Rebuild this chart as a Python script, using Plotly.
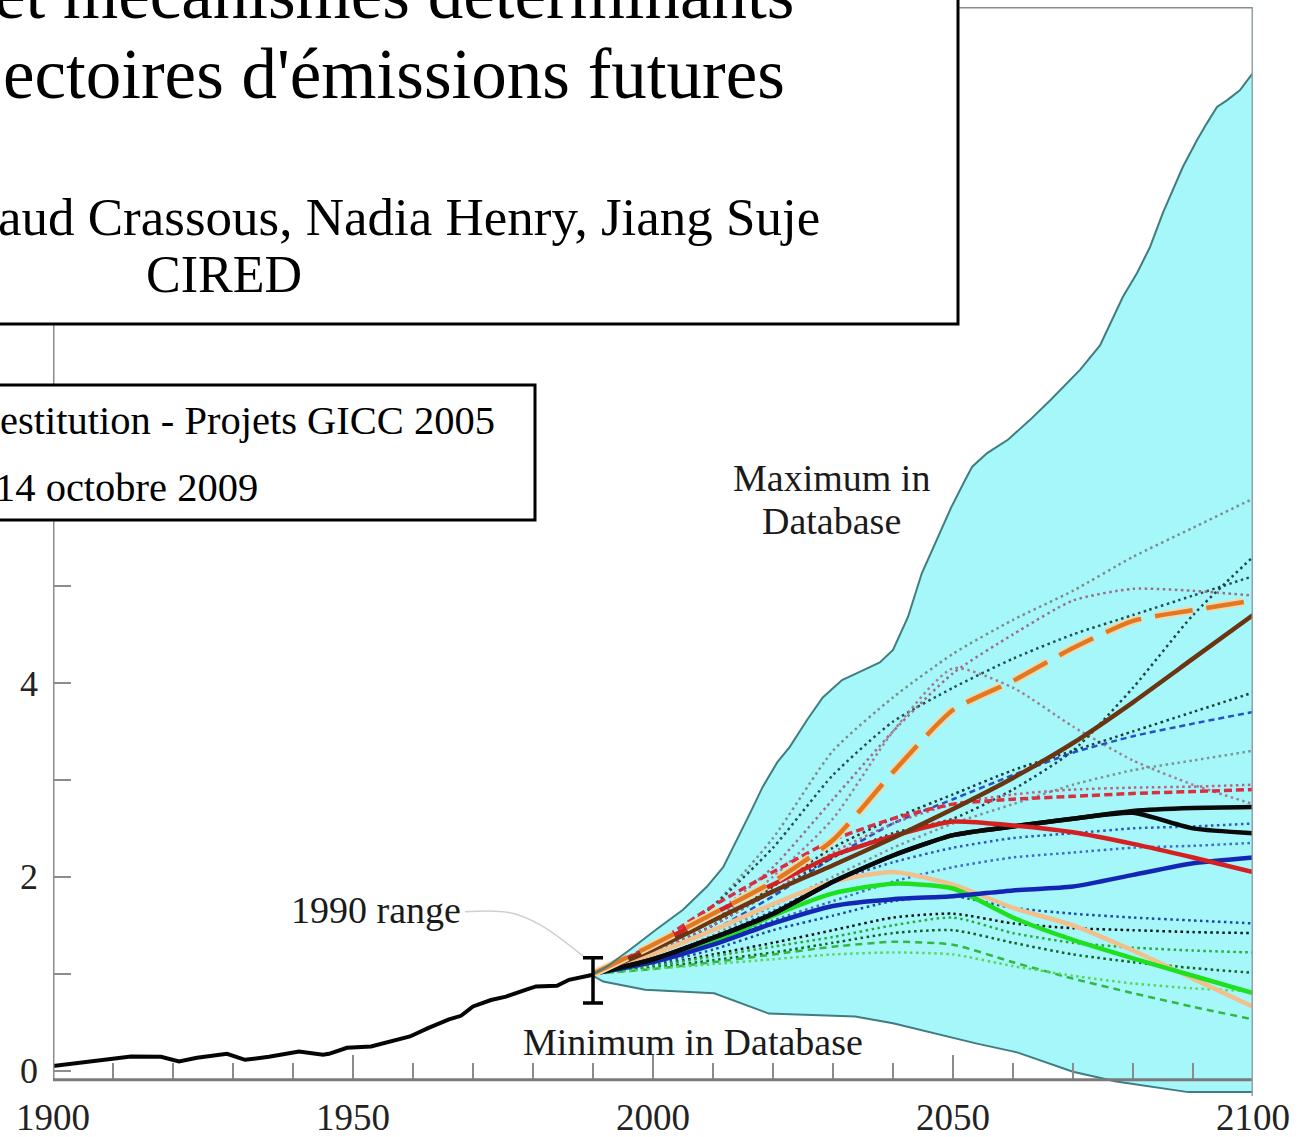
import plotly.graph_objects as go

# ---------------- data ----------------
hist_years = [1900, 1905, 1913, 1918, 1921, 1924, 1929, 1932, 1936, 1941, 1945, 1946,
              1949, 1953, 1957, 1959.5, 1962.5, 1966, 1968, 1970, 1973, 1975.5, 1979,
              1980.5, 1984, 1986, 1990]
hist_values = [0.05, 0.085, 0.148, 0.144, 0.096, 0.134, 0.175, 0.113, 0.144, 0.199, 0.165,
               0.175, 0.237, 0.251, 0.32, 0.354, 0.44, 0.53, 0.567, 0.663, 0.73, 0.765,
               0.84, 0.87, 0.876, 0.938, 0.99]

max_years = [1990, 1992, 1996.2, 2000.6, 2005, 2009, 2011.7, 2014, 2016.2, 2018.3, 2020.7,
             2022.8, 2025.7, 2028.3, 2031.5, 2034, 2037.8, 2040, 2042.5, 2044.8, 2047.2,
             2049.7, 2052, 2053.2, 2055.7, 2059.2, 2062.8, 2066.3, 2071.2, 2074.5, 2078.3,
             2080.7, 2082.8, 2085, 2088.3, 2090.7, 2092.3, 2094, 2095.7, 2097.8, 2100]
max_values = [1.0, 1.06, 1.25, 1.46, 1.66, 1.90, 2.10, 2.38, 2.66, 2.93, 3.18, 3.34, 3.62,
              3.85, 4.03, 4.10, 4.21, 4.34, 4.68, 5.13, 5.47, 5.81, 6.09, 6.23, 6.37, 6.51,
              6.71, 6.92, 7.23, 7.48, 7.98, 8.23, 8.49, 8.85, 9.32, 9.60, 9.77, 9.94, 10.01,
              10.11, 10.29]

min_years = [1990, 1991.7, 1998.7, 2010.2, 2019.3, 2033.7, 2040, 2046.5, 2054, 2060.7,
             2070, 2077.2, 2089.2, 2100]
min_values = [0.98, 0.92, 0.835, 0.80, 0.59, 0.56, 0.49, 0.39, 0.28, 0.19, -0.01, -0.11,
              -0.22, -0.22]

range_1990_year = 1990
range_1990_mid = 1.0
range_1990_high = 1.165
range_1990_low = 0.70

leader_years = [1968.7, 1976.2, 1981.2, 1988.7]
leader_values = [1.64, 1.63, 1.505, 1.165]

scen_years = [1990, 2000, 2010, 2020, 2030, 2040, 2050, 2060, 2070, 2080, 2090, 2100]

# dotted / dashed scenarios (thin)
dotted_gray_high = [1.0, 1.25, 1.7, 2.4, 3.3, 3.85, 4.3, 4.65, 4.95, 5.3, 5.6, 5.9]
dotted_teal_high = [1.0, 1.25, 1.7, 2.3, 3.05, 3.6, 3.95, 4.25, 4.5, 4.7, 4.9, 5.1]
dotted_mauve = [1.0, 1.2, 1.6, 2.1, 2.8, 3.5, 4.1, 4.5, 4.85, 4.97, 4.95, 4.9]
dotted_pink_peak = [1.0, 1.2, 1.55, 2.0, 2.6, 3.5, 4.15, 3.95, 3.55, 3.2, 2.95, 2.75]
dotted_dark_mid = [1.0, 1.2, 1.5, 1.9, 2.3, 2.6, 2.85, 3.1, 3.3, 3.5, 3.7, 3.9]
dashed_blue_mid = [1.0, 1.2, 1.45, 1.8, 2.2, 2.55, 2.8, 3.05, 3.28, 3.45, 3.58, 3.7]
dotted_dark_late = [1.0, 1.2, 1.5, 1.85, 2.2, 2.45, 2.6, 2.9, 3.3, 3.95, 4.7, 5.3]
dotted_gray_mid = [1.0, 1.15, 1.4, 1.7, 2.0, 2.3, 2.55, 2.75, 2.95, 3.1, 3.2, 3.3]
dotted_pink_mid = [1.0, 1.2, 1.5, 1.85, 2.25, 2.55, 2.75, 2.85, 2.9, 2.92, 2.93, 2.95]
dotted_blue_a = [1.0, 1.15, 1.38, 1.65, 1.95, 2.15, 2.3, 2.4, 2.45, 2.5, 2.52, 2.55]
dotted_blue_b = [1.0, 1.12, 1.3, 1.55, 1.75, 1.95, 2.1, 2.2, 2.25, 2.3, 2.32, 2.35]
dotted_blue_c = [1.0, 1.1, 1.25, 1.45, 1.6, 1.75, 1.8, 1.68, 1.62, 1.58, 1.55, 1.52]
dotted_black_low = [1.0, 1.08, 1.2, 1.32, 1.45, 1.58, 1.62, 1.52, 1.47, 1.45, 1.43, 1.42]
dotted_green_a = [1.0, 1.08, 1.18, 1.28, 1.38, 1.5, 1.58, 1.42, 1.32, 1.27, 1.24, 1.22]
dotted_green_b = [1.0, 1.06, 1.14, 1.22, 1.32, 1.42, 1.45, 1.32, 1.2, 1.12, 1.06, 1.01]
dashed_green_low = [1.0, 1.05, 1.12, 1.2, 1.28, 1.33, 1.3, 1.12, 0.95, 0.8, 0.66, 0.53]
dotted_lightgreen = [1.0, 1.05, 1.1, 1.15, 1.2, 1.22, 1.2, 1.08, 0.98, 0.9, 0.85, 0.82]

# highlighted scenarios (thick)
orange_dashed = [1.0, 1.3, 1.62, 1.95, 2.38, 3.08, 3.72, 4.02, 4.36, 4.64, 4.75, 4.85]
brown_solid = [1.0, 1.25, 1.55, 1.85, 2.12, 2.4, 2.7, 3.02, 3.38, 3.8, 4.25, 4.7]
red_dashed = [1.0, 1.3, 1.7, 2.05, 2.38, 2.6, 2.75, 2.8, 2.83, 2.86, 2.88, 2.9]
red_solid = [1.0, 1.28, 1.62, 1.92, 2.22, 2.42, 2.57, 2.53, 2.46, 2.34, 2.2, 2.05]
black_a = [1.0, 1.15, 1.37, 1.62, 1.95, 2.22, 2.43, 2.52, 2.6, 2.68, 2.71, 2.72]
black_b = [1.0, 1.15, 1.37, 1.62, 1.95, 2.22, 2.43, 2.52, 2.6, 2.66, 2.5, 2.45]
blue_solid = [1.0, 1.12, 1.3, 1.52, 1.7, 1.77, 1.8, 1.86, 1.9, 2.02, 2.14, 2.2]
green_solid = [1.0, 1.12, 1.32, 1.6, 1.83, 1.93, 1.88, 1.58, 1.35, 1.16, 0.98, 0.8]
tan_solid = [1.0, 1.2, 1.45, 1.72, 1.95, 2.05, 1.92, 1.68, 1.5, 1.24, 0.95, 0.66]

x_tick_vals = [1900, 1950, 2000, 2050, 2100]
x_tick_text = ["1900", "1950", "2000", "2050", "2100"]
y_tick_vals = [0, 1, 2, 3, 4, 5, 6, 7, 8, 9, 10]
y_tick_text = ["0", "", "2", "", "4", "", "", "", "", "", ""]

# ---------------- geometry ----------------
W, H = 1301, 1137
M_L, M_R, M_T, M_B = 53, 48, 7, 41
PW, PH = W - M_L - M_R, H - M_T - M_B
Y_RANGE = [-0.26, 10.97]
X_RANGE = [1900, 2100]
AXIS_Y = -0.093  # value where the horizontal axis is drawn


def px_x(px):
    return (px - M_L) / PW


def px_y(py):
    return (H - M_B - py) / PH


SERIF = "Liberation Serif"
FILL = "#a6f7fa"
EDGE = "#3f7d80"
AXIS_GRAY = "#8c8c8c"

fig = go.Figure()

# envelope of the database
fig.add_trace(go.Scatter(
    x=max_years + min_years[::-1], y=max_values + min_values[::-1],
    fill="toself", fillcolor=FILL, line=dict(width=0), mode="lines",
    hoverinfo="skip"))

DOT = "2.5px,3.5px"
thin = [
    (dotted_gray_high, "#7f8c8c", DOT),
    (dotted_teal_high, "#234f50", DOT),
    (dotted_mauve, "#9a6f88", DOT),
    (dotted_pink_peak, "#a08090", DOT),
    (dotted_dark_mid, "#1c3e40", DOT),
    (dashed_blue_mid, "#2452c8", "6px,4px"),
    (dotted_dark_late, "#1f4446", DOT),
    (dotted_gray_mid, "#7d9494", DOT),
    (dotted_pink_mid, "#b86480", DOT),
    (dotted_blue_a, "#2a58c0", DOT),
    (dotted_blue_b, "#3c6ccc", DOT),
    (dotted_blue_c, "#1c48a8", DOT),
    (dotted_black_low, "#0c1414", DOT),
    (dotted_green_a, "#28a838", DOT),
    (dotted_green_b, "#165e24", DOT),
    (dashed_green_low, "#30b840", "7px,5px"),
    (dotted_lightgreen, "#5cd45c", DOT),
]
for vals, col, dash in thin:
    fig.add_trace(go.Scatter(
        x=scen_years, y=vals, mode="lines",
        line=dict(color=col, width=2.5, dash=dash, shape="spline", smoothing=0.6),
        hoverinfo="skip"))

thick = [
    (tan_solid, "#f2c08c", "solid", 4.5),
    (green_solid, "#1fe01f", "solid", 4.5),
    (blue_solid, "#1426b4", "solid", 4.5),
    (red_dashed, "#d83040", "8px,4px", 3.5),
    (black_b, "#0a0a0a", "solid", 4.5),
    (black_a, "#0a0a0a", "solid", 4.5),
    (red_solid, "#d42020", "solid", 4.5),
    (brown_solid, "#6a3510", "solid", 4.5),
]
for vals, col, dash, w in thick:
    fig.add_trace(go.Scatter(
        x=scen_years, y=vals, mode="lines",
        line=dict(color=col, width=w, dash=dash, shape="spline", smoothing=0.6),
        hoverinfo="skip"))

# long-dashed orange scenario with a pale halo
for col, w in (("#f6d6a8", 8), ("#e07a22", 4.5)):
    fig.add_trace(go.Scatter(
        x=scen_years, y=orange_dashed, mode="lines",
        line=dict(color=col, width=w, dash="38px,14px", shape="spline", smoothing=0.6),
        hoverinfo="skip"))

# envelope outlines
fig.add_trace(go.Scatter(x=max_years, y=max_values, mode="lines",
                         line=dict(color=EDGE, width=2), hoverinfo="skip"))
fig.add_trace(go.Scatter(x=min_years, y=min_values, mode="lines",
                         line=dict(color=EDGE, width=2), hoverinfo="skip"))

# historical emissions
fig.add_trace(go.Scatter(x=hist_years, y=hist_values, mode="lines",
                         line=dict(color="#050505", width=4), hoverinfo="skip"))

# leader line for the 1990 range label
fig.add_trace(go.Scatter(x=leader_years, y=leader_values, mode="lines",
                         line=dict(color="#cfcfcf", width=1.5, shape="spline"),
                         hoverinfo="skip"))

# 1990 range bar
fig.add_trace(go.Scatter(
    x=[range_1990_year], y=[range_1990_mid], mode="markers",
    marker=dict(size=1, opacity=0),
    error_y=dict(type="data", symmetric=False,
                 array=[range_1990_high - range_1990_mid],
                 arrayminus=[range_1990_mid - range_1990_low],
                 color="#000000", thickness=3.5, width=10),
    hoverinfo="skip"))

shapes = [
    # axes and frame
    dict(type="line", xref="x", yref="y", x0=1900, x1=1900, y0=AXIS_Y, y1=Y_RANGE[1],
         line=dict(color=AXIS_GRAY, width=3), layer="above"),
    dict(type="line", xref="x", yref="y", x0=1900, x1=2100, y0=AXIS_Y, y1=AXIS_Y,
         line=dict(color="#7a7a7a", width=3), layer="above"),
    dict(type="line", xref="x", yref="y", x0=1900, x1=2100, y0=Y_RANGE[1], y1=Y_RANGE[1],
         line=dict(color=AXIS_GRAY, width=3), layer="above"),
    dict(type="line", xref="x", yref="y", x0=2100, x1=2100, y0=Y_RANGE[0], y1=Y_RANGE[1],
         line=dict(color="#8fa3a4", width=3), layer="above"),
    # title box
    dict(type="rect", xref="paper", yref="paper",
         x0=px_x(-10), x1=px_x(958), y0=px_y(324), y1=px_y(-10),
         fillcolor="white", line=dict(color="black", width=3), layer="above"),
    # date box
    dict(type="rect", xref="paper", yref="paper",
         x0=px_x(-10), x1=px_x(535), y0=px_y(520), y1=px_y(385),
         fillcolor="white", line=dict(color="black", width=3), layer="above"),
]


def paper_text(text, px, py, size, xanchor="right"):
    return dict(text=text, xref="paper", yref="paper", x=px_x(px), y=px_y(py),
                xanchor=xanchor, yanchor="middle", showarrow=False, borderpad=0,
                font=dict(family=SERIF, size=size, color="#000000"))


def data_text(text, x, y, size=38):
    return dict(text=text, xref="x", yref="y", x=x, y=y, xanchor="center",
                yanchor="middle", showarrow=False,
                font=dict(family=SERIF, size=size, color="#1a1a1a"))


annotations = [
    paper_text("et mécanismes déterminants", 795, -6, 71),
    paper_text("ectoires d'émissions futures", 786, 74, 71),
    paper_text("aud Crassous, Nadia Henry, Jiang Suje", 821, 217, 53),
    paper_text("CIRED", 224, 274, 52, xanchor="center"),
    paper_text("estitution - Projets GICC 2005", 496, 420, 40.5),
    paper_text("14 octobre 2009", 259, 487, 40.5),
    data_text("1990 range", 1953.8, 1.66),
    data_text("Maximum in", 2029.7, 6.11),
    data_text("Database", 2029.7, 5.67),
    data_text("Minimum in Database", 2006.7, 0.30),
]

axis_pos = (AXIS_Y - Y_RANGE[0]) / (Y_RANGE[1] - Y_RANGE[0])

fig.update_layout(
    width=W, height=H,
    margin=dict(l=M_L, r=M_R, t=M_T, b=M_B, pad=0),
    paper_bgcolor="white", plot_bgcolor="white",
    showlegend=False,
    shapes=shapes,
    annotations=annotations,
    xaxis=dict(range=X_RANGE, anchor="free", position=axis_pos, automargin=False,
               showgrid=False, zeroline=False, showline=False,
               tickvals=x_tick_vals, ticktext=x_tick_text,
               ticks="inside", ticklen=25, tickwidth=2, tickcolor=AXIS_GRAY,
               ticklabelstandoff=12,
               minor=dict(dtick=10, tick0=1900, ticks="inside", ticklen=17,
                          tickwidth=2, tickcolor=AXIS_GRAY),
               tickfont=dict(family=SERIF, size=37, color="#222222")),
    yaxis=dict(range=Y_RANGE, automargin=False,
               showgrid=False, zeroline=False, showline=False,
               tickvals=y_tick_vals, ticktext=y_tick_text,
               ticks="inside", ticklen=18, tickwidth=2, tickcolor=AXIS_GRAY,
               ticklabelstandoff=14,
               tickfont=dict(family=SERIF, size=36, color="#222222")),
)

fig.write_html("out.html")
